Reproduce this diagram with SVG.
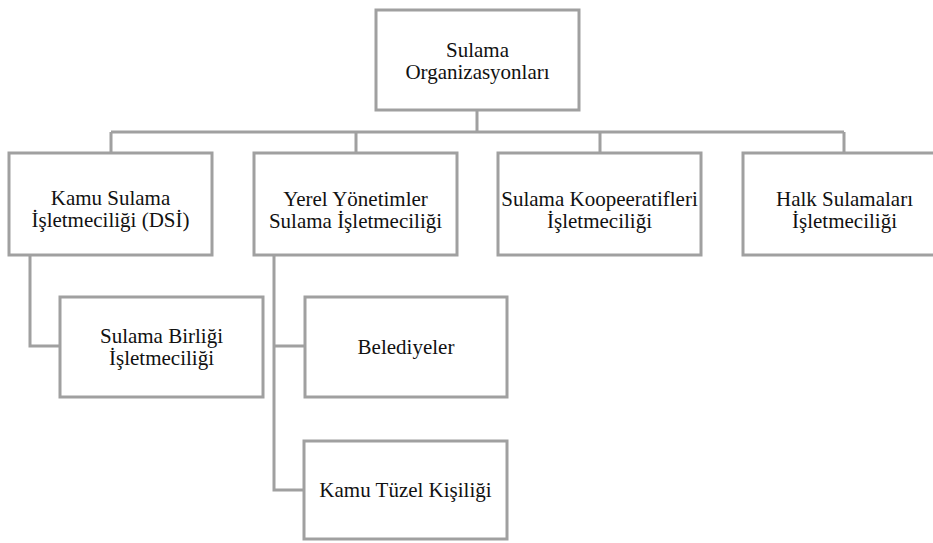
<svg xmlns="http://www.w3.org/2000/svg" width="933" height="543" viewBox="0 0 933 543">
<style>
.box{fill:#fff;stroke:#a0a0a0;stroke-width:3}
.t{font-size:21px;fill:#111;text-anchor:middle}
.c{fill:none;stroke:#a0a0a0;stroke-width:3}
</style>
<rect width="933" height="543" fill="#fff"/>
<g id="connectors">
<path class="c" d="M477 110V132M111 132H844M111 132V153M356 132V153M600 132V153M844 132V153"/>
<path class="c" d="M30 255V346H60"/>
<path class="c" d="M274 255V490H304M274 346H305"/>
</g>
<g font-family="Liberation Serif, DejaVu Serif, serif">
<g id="root"><rect class="box" x="376" y="10" width="203" height="100"/><text class="t" x="477.5" y="57">Sulama</text><text class="t" x="477.5" y="79">Organizasyonları</text></g>
<g id="kamu"><rect class="box" x="9" y="153" width="203" height="102"/><text class="t" x="110.5" y="205">Kamu Sulama</text><text class="t" x="110.5" y="227">İşletmeciliği (DSİ)</text></g>
<g id="yerel"><rect class="box" x="254" y="153" width="203" height="102"/><text class="t" x="355.5" y="206">Yerel Yönetimler</text><text class="t" x="355.5" y="228">Sulama İşletmeciliği</text></g>
<g id="koop"><rect class="box" x="498" y="153" width="203" height="102"/><text class="t" x="599.5" y="206">Sulama Koopeeratifleri</text><text class="t" x="599.5" y="228">İşletmeciliği</text></g>
<g id="halk"><rect class="box" x="743" y="153" width="203" height="102"/><text class="t" x="844.5" y="206">Halk Sulamaları</text><text class="t" x="844.5" y="228">İşletmeciliği</text></g>
<g id="birlik"><rect class="box" x="60" y="297" width="203" height="100"/><text class="t" x="161.5" y="343">Sulama Birliği</text><text class="t" x="161.5" y="365">İşletmeciliği</text></g>
<g id="belediyeler"><rect class="box" x="305" y="297" width="202" height="100"/><text class="t" x="406" y="354">Belediyeler</text></g>
<g id="tuzel"><rect class="box" x="304" y="441" width="203" height="98"/><text class="t" x="405.5" y="497">Kamu Tüzel Kişiliği</text></g>
</g>
</svg>
